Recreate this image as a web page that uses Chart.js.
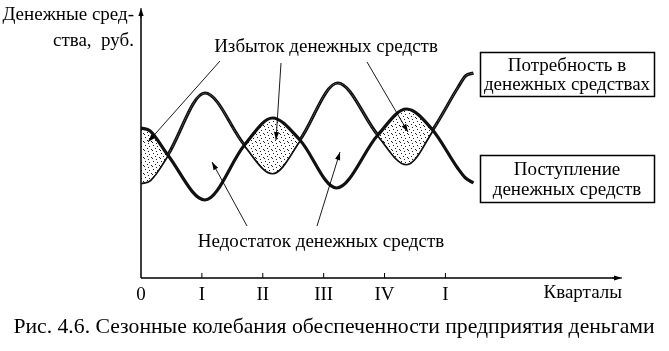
<!DOCTYPE html>
<html>
<head>
<meta charset="utf-8">
<script src="https://cdn.jsdelivr.net/npm/chart.js@4"></script>
<style>
  html, body { margin: 0; background: #fff; }
  #wrap { width: 669px; height: 351px; }
</style>
</head>
<body>
<div id="wrap"><canvas id="chart"></canvas></div>
<script>
// Quarters on the x axis (0 = start, then I..IV and I of next year)
const quarterPos    = [0, 1, 2, 3, 4, 5];
const quarterLabels = ['0', 'I', 'II', 'III', 'IV', 'I'];

// Поступление денежных средств (inflow)
const inflowX = [0, 0.15, 0.44, 1.05, 1.70, 2.16, 2.61, 3.21, 3.89, 4.36, 4.79, 5.20, 5.33, 5.46];
const inflowY = [15.0, 14.7, 12.3, 7.8, 13.3, 16.0, 13.8, 9.0, 14.3, 16.9, 14.8, 11.0, 10.0, 9.5];

// Потребность в денежных средствах (need)
const needX = [0, 0.15, 0.44, 1.05, 1.70, 2.16, 2.61, 3.23, 3.89, 4.36, 4.79, 5.20, 5.33, 5.46];
const needY = [9.5, 9.8, 12.3, 18.5, 13.3, 10.5, 13.8, 19.5, 14.3, 11.4, 14.8, 19.0, 20.2, 20.5];

const FONT = '"Liberation Serif", "Times New Roman", serif';

const toPoints = (xs, ys) => xs.map((x, i) => ({ x, y: ys[i] }));

/* ── stipple pattern for the surplus lobes ───────────── */
function stipple() {
  const c = document.createElement('canvas');
  c.width = 8; c.height = 8;
  const g = c.getContext('2d');
  g.fillStyle = '#ffffff';
  g.fillRect(0, 0, 8, 8);
  g.fillStyle = '#222';
  [[1, 1], [5, 2], [3, 4], [7, 5], [0, 6], [4, 7]].forEach(([x, y]) => g.fillRect(x, y, 1, 1));
  return g.createPattern(c, 'repeat');
}

function arrow(ctx, x1, y1, x2, y2) {
  ctx.beginPath();
  ctx.moveTo(x1, y1);
  ctx.lineTo(x2, y2);
  ctx.stroke();
  const a = Math.atan2(y2 - y1, x2 - x1);
  const L = 8, W = 2.6;
  ctx.beginPath();
  ctx.moveTo(x2, y2);
  ctx.lineTo(x2 - L * Math.cos(a) + W * Math.sin(a), y2 - L * Math.sin(a) - W * Math.cos(a));
  ctx.lineTo(x2 - L * Math.cos(a) - W * Math.sin(a), y2 - L * Math.sin(a) + W * Math.cos(a));
  ctx.closePath();
  ctx.fill();
}

/* ── axes, labels, boxes and caption ─────────────────── */
const decor = {
  id: 'decor',
  afterDraw(chart) {
    const { ctx, chartArea: ca, scales } = chart;
    const xs = scales.x, ys = scales.y;
    const x0 = xs.getPixelForValue(0);
    const y0 = ys.getPixelForValue(0);

    ctx.save();
    ctx.strokeStyle = '#000';
    ctx.fillStyle = '#000';

    // axes
    ctx.lineWidth = 1.5;
    ctx.beginPath();
    ctx.moveTo(x0, y0);
    ctx.lineTo(x0, ca.top + 6);
    ctx.moveTo(x0, y0);
    ctx.lineTo(ca.right - 6, y0);
    ctx.stroke();
    ctx.lineWidth = 1;
    arrow(ctx, x0, ca.top + 10, x0, ca.top);
    arrow(ctx, ca.right - 10, y0, ca.right, y0);

    // ticks + quarter labels
    ctx.font = '19px ' + FONT;
    ctx.textAlign = 'center';
    ctx.textBaseline = 'middle';
    quarterPos.forEach((q, i) => {
      const px = xs.getPixelForValue(q);
      if (q > 0) {
        ctx.beginPath();
        ctx.moveTo(px, y0);
        ctx.lineTo(px, y0 - 5);
        ctx.stroke();
      }
      ctx.fillText(quarterLabels[i], px, y0 + 17);
    });
    ctx.textAlign = 'right';
    ctx.fillText('Кварталы', ca.right, y0 + 15);

    // y axis title
    ctx.font = '19px ' + FONT;
    ctx.fillText('Денежные сред-', x0 - 7, 15);
    ctx.fillText('ства,  руб.', x0 - 7, 41);

    // annotations
    ctx.textAlign = 'center';
    ctx.font = '19px ' + FONT;
    ctx.fillText('Избыток денежных средств', 326, 47);
    ctx.fillText('Недостаток денежных средств', 321, 242);

    ctx.lineWidth = 0.9;
    arrow(ctx, 220, 61, 148, 142);
    arrow(ctx, 281, 63, 276, 140);
    arrow(ctx, 367, 62, 408, 132);
    arrow(ctx, 247, 226, 212, 162);
    arrow(ctx, 317, 226, 340, 152);

    // legend boxes
    ctx.lineWidth = 1.5;
    ctx.strokeRect(480.5, 52.5, 174, 44);
    ctx.strokeRect(480.5, 155.5, 174, 47);
    ctx.font = '19px ' + FONT;
    ctx.fillText('Потребность в', 567, 66);
    ctx.fillText('денежных средствах', 567, 85);
    ctx.fillText('Поступление', 567, 170);
    ctx.fillText('денежных средств', 567, 190);

    // caption
    ctx.font = '21.7px ' + FONT;
    ctx.fillText('Рис. 4.6. Сезонные колебания обеспеченности предприятия деньгами', 334, 327);

    ctx.restore();
  }
};

new Chart(document.getElementById('chart'), {
  type: 'line',
  data: {
    datasets: [
      {
        label: 'Поступление денежных средств',
        data: toPoints(inflowX, inflowY),
        borderColor: '#111',
        borderWidth: 3.2,
        pointRadius: 0,
        cubicInterpolationMode: 'monotone',
        fill: { target: 1, above: stipple(), below: 'rgba(0,0,0,0)' },
      },
      {
        label: 'Потребность в денежных средствах',
        data: toPoints(needX, needY),
        borderColor: '#111',
        borderWidth: 3.2,
        pointRadius: 0,
        cubicInterpolationMode: 'monotone',
        fill: false,
      },
    ],
  },
  options: {
    responsive: true,
    maintainAspectRatio: false,
    animation: false,
    layout: { padding: { left: 141, right: 47, top: 8, bottom: 73 } },
    scales: {
      x: { type: 'linear', min: 0, max: 7.9, display: false },
      y: { min: 0, max: 27, display: false },
    },
    plugins: {
      legend: { display: false },
      tooltip: { enabled: false },
    },
  },
  plugins: [decor],
});
</script>
</body>
</html>
